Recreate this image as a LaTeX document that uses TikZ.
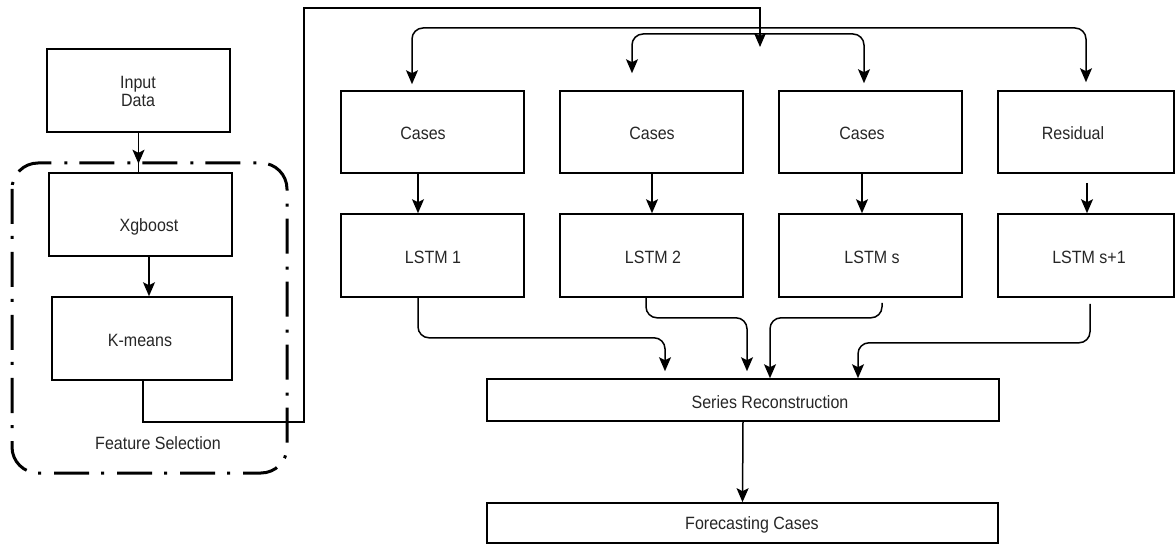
\documentclass[tikz,border=0pt]{standalone}
\usepackage{fontspec}
\setmainfont{Liberation Sans}[FakeStretch=0.9]
\usetikzlibrary{arrows.meta,calc}
\begin{document}
\begin{tikzpicture}[x=1pt,y=-1pt,
  box/.style={draw=black,line width=1.6pt,minimum width=183pt,minimum height=83pt,inner sep=0pt},
  wbox/.style={draw=black,line width=1.6pt,minimum height=42pt,inner sep=0pt},
  txt/.style={text=black!85,font=\fontsize{17.8}{18}\selectfont,inner sep=0pt,align=center},
  line/.style={draw=black,line width=1.5pt},
  arr/.style={line,-{Stealth[length=14pt,width=12pt,inset=3pt]},rounded corners=11pt},
  frame/.style={draw=black,line width=3pt,rounded corners=26pt,dash pattern=on 35pt off 12pt on 3pt off 13pt}
]
\useasboundingbox (0,0) rectangle (1176,545);
% left column
\node[box] (inp) at (138.5,90.5) {};
\node[box] (xgb) at (140.5,214.5) {};
\node[box,minimum width=180pt] (km) at (142,338.5) {};
\node[txt] (inpt) at (138,91) {Input\\Data};
\node[txt] (xgbt) at (149,227) {Xgboost};
\node[txt] (kmt) at (140,340) {K-means};
\draw[frame] (12,163) rectangle (287,473);
\node[txt] (fst) at (158,443) {Feature Selection};
% top row
\node[box,minimum height=82pt] (c1) at (432.5,132) {};
\node[box,minimum height=82pt] (c2) at (651.5,132) {};
\node[box,minimum height=82pt] (c3) at (870.5,132) {};
\node[box,minimum height=82pt,minimum width=176pt] (c4) at (1086,132) {};
\node[txt] (c1t) at (423,133) {Cases};
\node[txt] (c2t) at (652,133) {Cases};
\node[txt] (c3t) at (862,133) {Cases};
\node[txt] (c4t) at (1073,133) {Residual};
% LSTM row
\node[box] (l1) at (432.5,255.5) {};
\node[box] (l2) at (651.5,255.5) {};
\node[box] (l3) at (870.5,255.5) {};
\node[box,minimum width=176pt] (l4) at (1086,255.5) {};
\node[txt] (l1t) at (433,257) {LSTM 1};
\node[txt] (l2t) at (653,257) {LSTM 2};
\node[txt] (l3t) at (872,257) {LSTM s};
\node[txt] (l4t) at (1089,257) {LSTM s+1};
% bottom
\node[wbox,minimum width=512pt] (sr) at (743,400) {};
\node[wbox,minimum width=511pt,minimum height=40pt] (fc) at (742.5,523) {};
\node[txt] (srt) at (770,402) {Series Reconstruction};
\node[txt] (fct) at (752,525) {Forecasting Cases};
\coordinate (hub) at (760,47);
% connectors left
\draw[line] (inp.south) -- (inp.south |- xgb.north);
\draw[arr] (inp.south) -- ++(0,31);
\draw[arr] ([xshift=8.5pt]xgb.south) -- ([xshift=8.5pt]xgb.south |- km.north);
\draw[arr,rounded corners=0pt] ([xshift=1pt]km.south) -- ++(0,41) -| (304,8) -| (hub);
% distribution
\draw[arr] (760,28) -| ([xshift=-20.5pt,yshift=6pt]c1.north);
\draw[arr] (760,28) -| ([yshift=8pt]c4.north);
\draw[arr] (760,34) -| ([xshift=-19.5pt,yshift=17pt]c2.north);
\draw[arr] (760,34) -| ([xshift=-6.5pt,yshift=7pt]c3.north);
% cases -> lstm
\draw[arr] ([xshift=-14.5pt]c1.south) -- ([xshift=-14.5pt]l1.north);
\draw[arr] ([xshift=0.5pt]c2.south) -- ([xshift=0.5pt]l2.north);
\draw[arr] ([xshift=-8.5pt]c3.south) -- ([xshift=-8.5pt]l3.north);
\draw[arr] ([xshift=1pt,yshift=-9pt]c4.south) -- ([xshift=1pt]l4.north);
% lstm -> series
\draw[arr] ([xshift=-14.5pt]l1.south) -- ++(0,40) -| ([xshift=-78pt,yshift=7pt]sr.north);
\draw[arr] ([xshift=-5.5pt]l2.south) -- ++(0,20) -| ([xshift=4pt,yshift=7pt]sr.north);
\draw[arr] ([xshift=11.5pt,yshift=-5pt]l3.south) -- ++(0,15) -| ([xshift=27pt]sr.north);
\draw[arr] ([xshift=4pt,yshift=-6pt]l4.south) -- ++(0,39) -| ([xshift=115pt]sr.north);
\draw[arr] (sr.south) -- (fc.north);
\end{tikzpicture}
\end{document}
